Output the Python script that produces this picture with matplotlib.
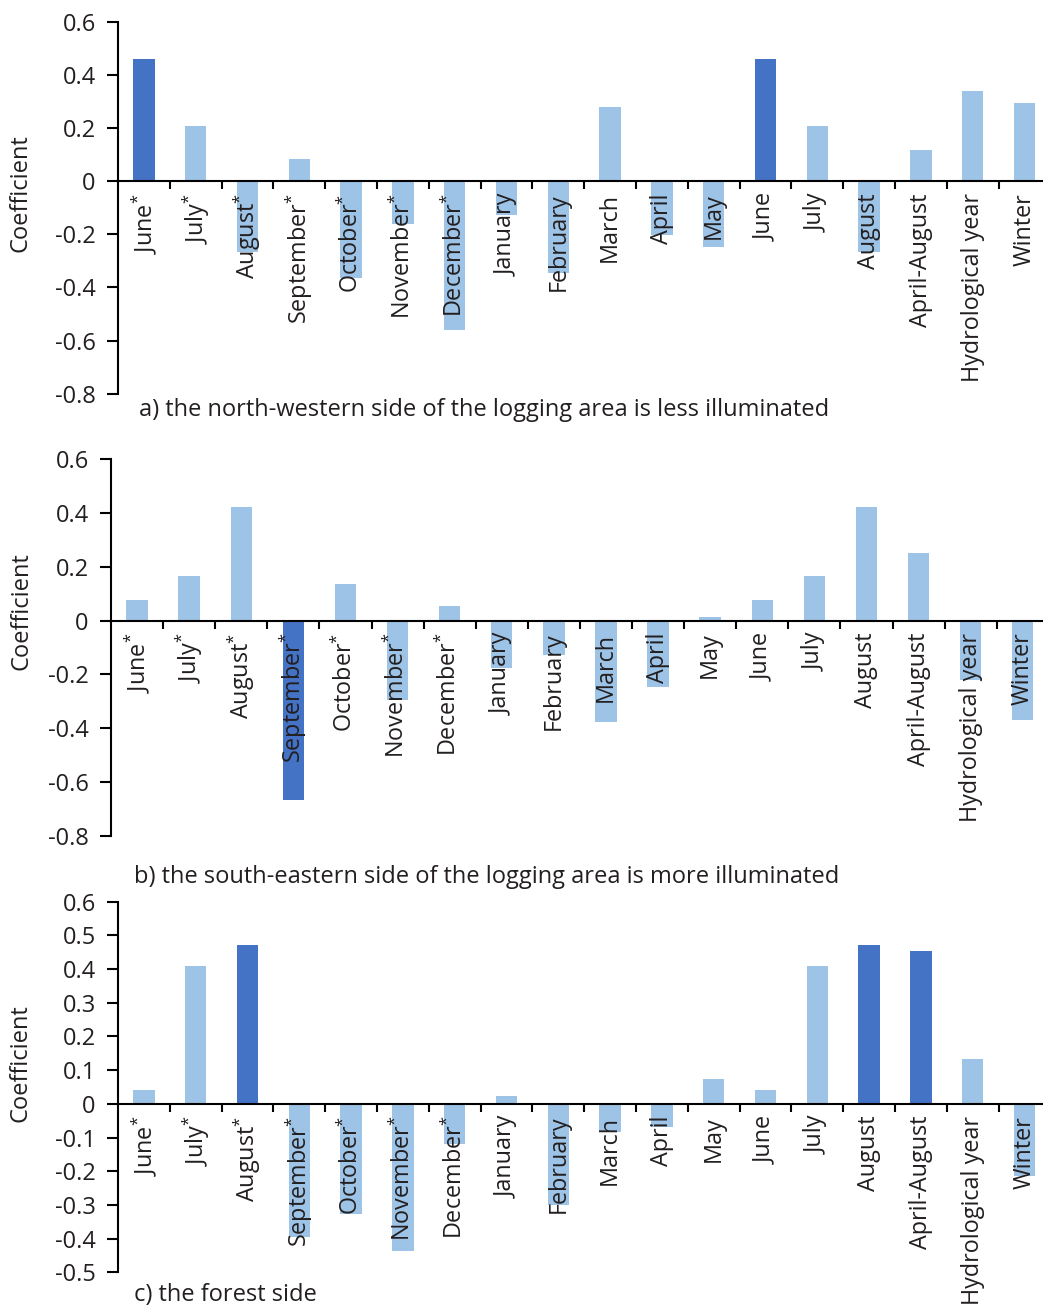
import matplotlib
matplotlib.use("Agg")
import matplotlib.pyplot as plt
from matplotlib.ticker import FixedLocator, FuncFormatter
import matplotlib.transforms as mtransforms

plt.rcParams["font.family"] = ["Open Sans", "DejaVu Sans"]
plt.rcParams["mathtext.fontset"] = "custom"
plt.rcParams["mathtext.rm"] = "Open Sans"
plt.rcParams["mathtext.it"] = "Open Sans"

# Periods on the horizontal axis (asterisk = previous year)
categories = ["June*", "July*", "August*", "September*", "October*", "November*",
              "December*", "January", "February", "March", "April", "May",
              "June", "July", "August", "April-August", "Hydrological year", "Winter"]

# Correlation coefficients for each side of the logging area
coef_nw = [0.46, 0.21, -0.265, 0.085, -0.365, -0.16, -0.56, -0.127, -0.345,
           0.28, -0.202, -0.247, 0.46, 0.21, -0.265, 0.118, 0.34, 0.296]
coef_se = [0.078, 0.167, 0.421, -0.668, 0.134, -0.294, 0.053, -0.176, -0.128,
           -0.375, -0.247, 0.012, 0.078, 0.167, 0.421, 0.25, -0.222, -0.368]
coef_forest = [0.041, 0.408, 0.471, -0.396, -0.328, -0.436, -0.12, 0.024, -0.299,
               -0.085, -0.07, 0.075, 0.041, 0.408, 0.471, 0.453, 0.132, -0.215]

# Significant coefficients highlighted in dark blue
signif_nw = [0, 12]
signif_se = [3]
signif_forest = [2, 14, 15]

captions = ["a) the north-western side of the logging area is less illuminated",
            "b) the south-eastern side of the logging area is more illuminated",
            "c) the forest side"]

LIGHT = "#9dc3e6"
DARK = "#4472c4"
TXT = "#231f20"
FS = 17

W, H = 1043, 1307
fig = plt.figure(figsize=(W / 100, H / 100), dpi=100)


def px_axes(left, right, top, bottom):
    return fig.add_axes([left / W, 1 - bottom / H, (right - left) / W, (bottom - top) / H])


def fmt(v, _):
    if abs(v) < 1e-9:
        return "0"
    return f"{v:.1f}".replace("\u2212", "-")


def label_text(lab):
    # previous-year periods carry a superscript asterisk
    if lab.endswith("*"):
        return lab[:-1] + r"$^{\mathrm{*}}$"
    return lab


def panel(ax, values, signif, yticks, ylim, caption, cap_xy, ylab_y):
    n = len(categories)
    colors = [DARK if i in signif else LIGHT for i in range(n)]
    ax.bar(range(n), values, width=0.41, color=colors, zorder=1)
    ax.set_xlim(-0.5, n - 0.5)
    ax.set_ylim(*ylim)
    for s in ("top", "right"):
        ax.spines[s].set_visible(False)
    ax.spines["bottom"].set_position(("data", 0))
    ax.spines["bottom"].set_linewidth(1.5)
    ax.spines["left"].set_linewidth(1.5)
    ax.spines["bottom"].set_zorder(3)
    ax.xaxis.set_major_locator(FixedLocator([i + 0.5 for i in range(n)]))
    ax.xaxis.set_major_formatter(FuncFormatter(lambda v, p: ""))
    ax.tick_params(axis="x", direction="out", length=6, width=1.5, color="black")
    ax.yaxis.set_major_locator(FixedLocator(yticks))
    ax.yaxis.set_major_formatter(FuncFormatter(fmt))
    ax.tick_params(axis="y", direction="out", length=8, width=1.5, pad=8,
                   labelsize=FS, labelcolor=TXT)
    ax.set_ylabel("Coefficient", fontsize=FS, color=TXT)
    off = mtransforms.offset_copy(ax.transData, fig=fig, x=0, y=-12, units="dots")
    for i, lab in enumerate(categories):
        ax.text(i, 0, label_text(lab), rotation=90, ha="center", va="top",
                fontsize=16.8, color=TXT, transform=off, zorder=4)
    fig.text(cap_xy[0] / W, 1 - cap_xy[1] / H, caption, fontsize=FS, color=TXT,
             ha="left", va="center")
    bb = ax.get_position()
    ax.yaxis.set_label_coords((33 / W - bb.x0) / bb.width,
                              ((1 - ylab_y / H) - bb.y0) / bb.height)


ax1 = px_axes(118, 1050.4, 22, 393.7)
panel(ax1, coef_nw, signif_nw, [0.6, 0.4, 0.2, 0, -0.2, -0.4, -0.6, -0.8],
      (-0.8, 0.6), captions[0], (139, 410), 193)

ax2 = px_axes(111, 1048.8, 459, 836)
panel(ax2, coef_se, signif_se, [0.6, 0.4, 0.2, 0, -0.2, -0.4, -0.6, -0.8],
      (-0.8, 0.6), captions[1], (134, 877), 611)

ax3 = px_axes(118, 1050.4, 901.7, 1272.3)
panel(ax3, coef_forest, signif_forest,
      [0.6, 0.5, 0.4, 0.3, 0.2, 0.1, 0, -0.1, -0.2, -0.3, -0.4, -0.5],
      (-0.5, 0.6), captions[2], (134, 1295), 1063)

fig.savefig("out.png", dpi=100)
